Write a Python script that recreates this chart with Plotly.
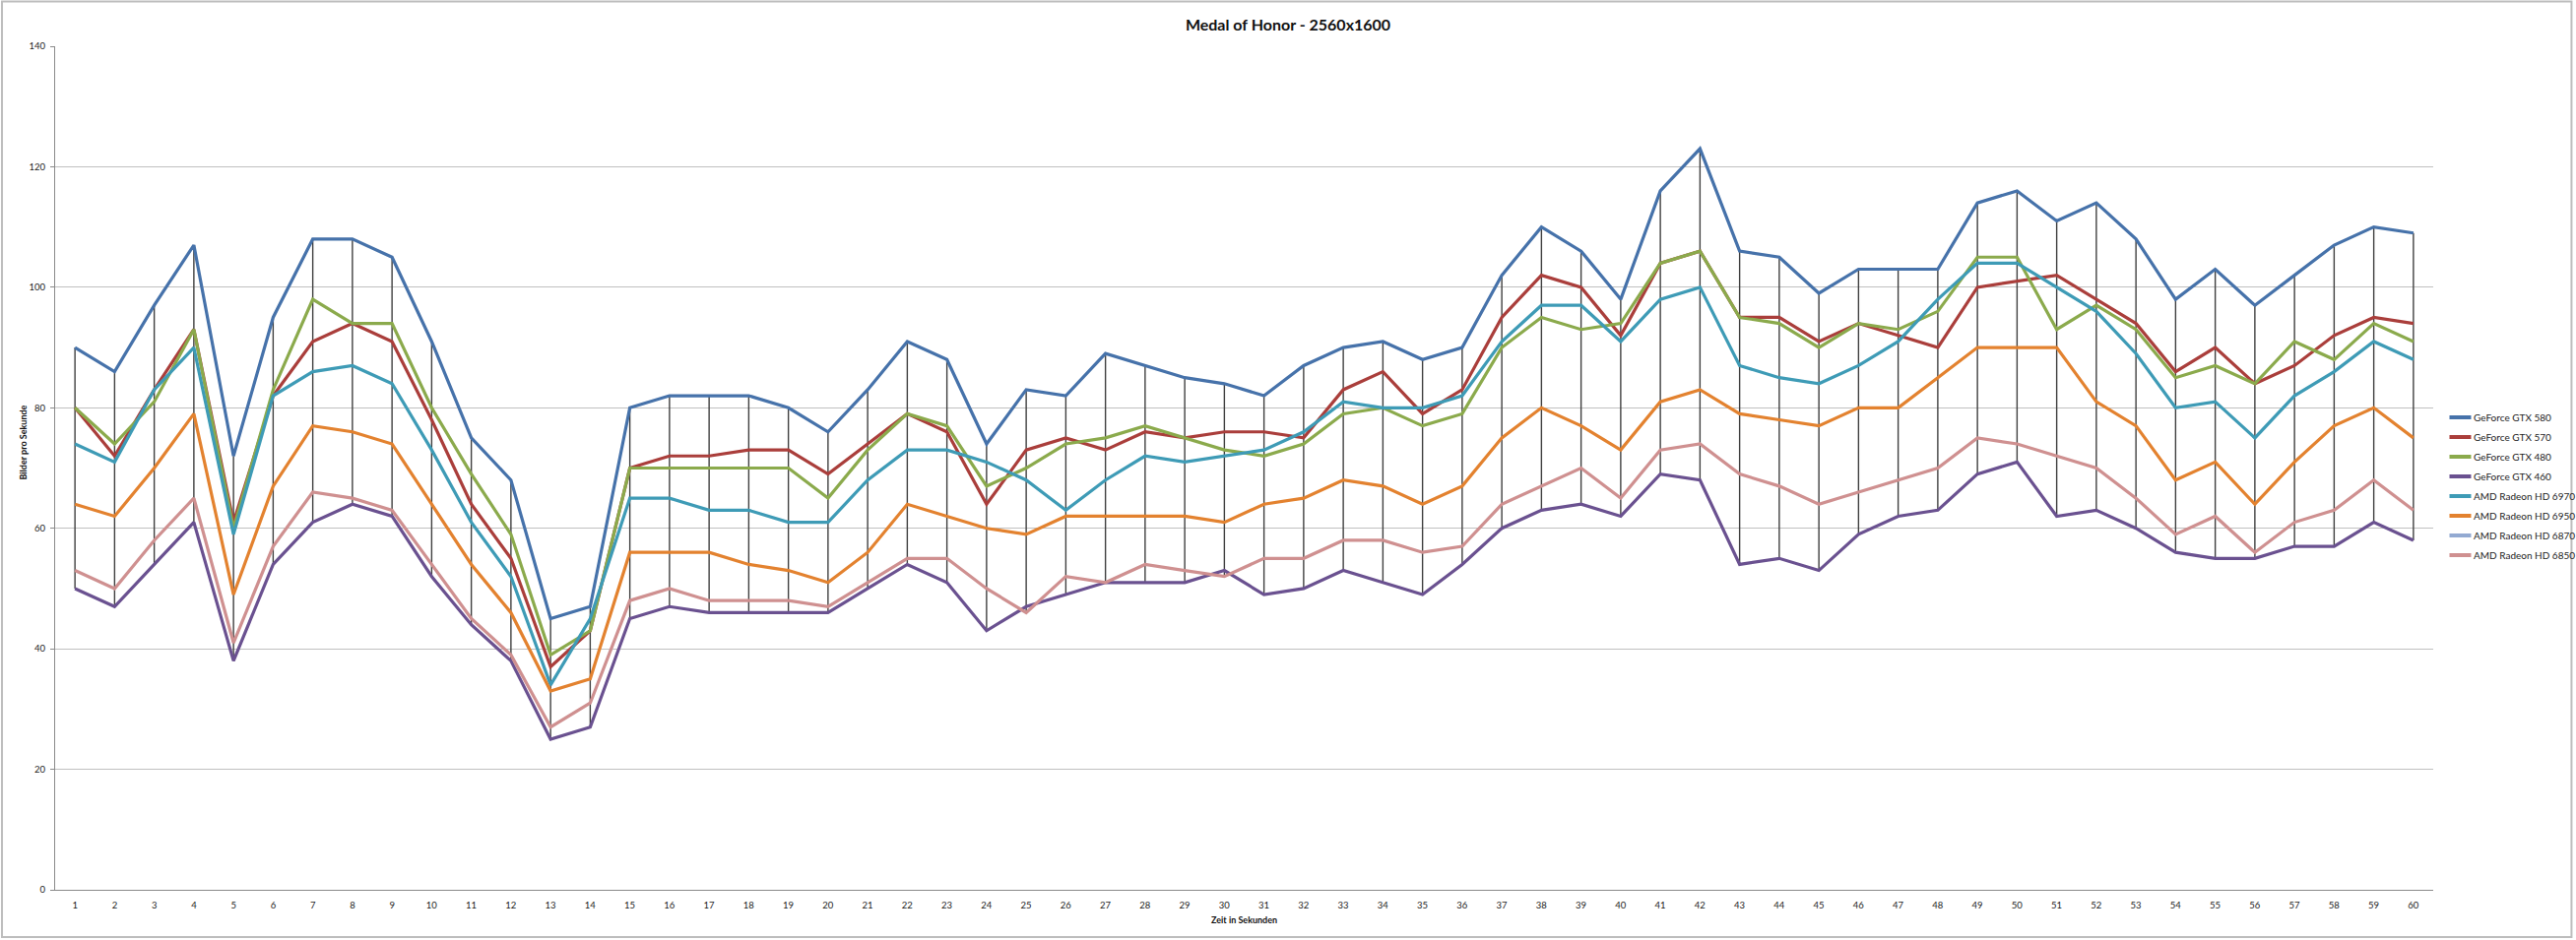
import plotly.graph_objects as go

seconds = list(range(1, 61))

gtx580 = [90, 86, 97, 107, 72, 95, 108, 108, 105, 91,
          75, 68, 45, 47, 80, 82, 82, 82, 80, 76,
          83, 91, 88, 74, 83, 82, 89, 87, 85, 84,
          82, 87, 90, 91, 88, 90, 102, 110, 106, 98,
          116, 123, 106, 105, 99, 103, 103, 103, 114, 116,
          111, 114, 108, 98, 103, 97, 102, 107, 110, 109]
gtx570 = [80, 72, 83, 93, 61, 82, 91, 94, 91, 78,
          64, 55, 37, 43, 70, 72, 72, 73, 73, 69,
          74, 79, 76, 64, 73, 75, 73, 76, 75, 76,
          76, 75, 83, 86, 79, 83, 95, 102, 100, 92,
          104, 106, 95, 95, 91, 94, 92, 90, 100, 101,
          102, 98, 94, 86, 90, 84, 87, 92, 95, 94]
gtx480 = [80, 74, 81, 93, 60, 83, 98, 94, 94, 80,
          69, 59, 39, 43, 70, 70, 70, 70, 70, 65,
          73, 79, 77, 67, 70, 74, 75, 77, 75, 73,
          72, 74, 79, 80, 77, 79, 90, 95, 93, 94,
          104, 106, 95, 94, 90, 94, 93, 96, 105, 105,
          93, 97, 93, 85, 87, 84, 91, 88, 94, 91]
gtx460 = [50, 47, 54, 61, 38, 54, 61, 64, 62, 52,
          44, 38, 25, 27, 45, 47, 46, 46, 46, 46,
          50, 54, 51, 43, 47, 49, 51, 51, 51, 53,
          49, 50, 53, 51, 49, 54, 60, 63, 64, 62,
          69, 68, 54, 55, 53, 59, 62, 63, 69, 71,
          62, 63, 60, 56, 55, 55, 57, 57, 61, 58]
hd6970 = [74, 71, 83, 90, 59, 82, 86, 87, 84, 73,
          61, 52, 34, 45, 65, 65, 63, 63, 61, 61,
          68, 73, 73, 71, 68, 63, 68, 72, 71, 72,
          73, 76, 81, 80, 80, 82, 91, 97, 97, 91,
          98, 100, 87, 85, 84, 87, 91, 98, 104, 104,
          100, 96, 89, 80, 81, 75, 82, 86, 91, 88]
hd6950 = [64, 62, 70, 79, 49, 67, 77, 76, 74, 64,
          54, 46, 33, 35, 56, 56, 56, 54, 53, 51,
          56, 64, 62, 60, 59, 62, 62, 62, 62, 61,
          64, 65, 68, 67, 64, 67, 75, 80, 77, 73,
          81, 83, 79, 78, 77, 80, 80, 85, 90, 90,
          90, 81, 77, 68, 71, 64, 71, 77, 80, 75]
hd6870 = [None] * 60
hd6850 = [53, 50, 58, 65, 41, 57, 66, 65, 63, 54,
          45, 39, 27, 31, 48, 50, 48, 48, 48, 47,
          51, 55, 55, 50, 46, 52, 51, 54, 53, 52,
          55, 55, 58, 58, 56, 57, 64, 67, 70, 65,
          73, 74, 69, 67, 64, 66, 68, 70, 75, 74,
          72, 70, 65, 59, 62, 56, 61, 63, 68, 63]

series_names = ["GeForce GTX 580", "GeForce GTX 570", "GeForce GTX 480", "GeForce GTX 460",
                "AMD Radeon HD 6970", "AMD Radeon HD 6950", "AMD Radeon HD 6870", "AMD Radeon HD 6850"]
series_values = [gtx580, gtx570, gtx480, gtx460, hd6970, hd6950, hd6870, hd6850]
series_colors = ["#4672AA", "#AA3E3B", "#8BAA4C", "#6A5190", "#3E9BB6", "#E3822F", "#93AAD2", "#CF9090"]

title_text = "Medal of Honor - 2560x1600"
y_title = "Bilder pro Sekunde"
x_title = "Zeit in Sekunden"
y_ticks = [0, 20, 40, 60, 80, 100, 120, 140]

W, H = 2616, 955
L, R, T, B = 55.5, 2471.5, 47, 904  # plot area in pixels


def px_x(p):
    return (p - L) / (R - L)


def px_y(p):
    return (B - p) / (B - T)


fig = go.Figure()

# high-low lines (from the series values)
hx, hy = [], []
for i, s in enumerate(seconds):
    vals = [v[i] for v in series_values if v[i] is not None]
    hx += [s, s, None]
    hy += [max(vals), min(vals), None]
fig.add_trace(go.Scatter(x=hx, y=hy, mode="lines", line=dict(color="#404040", width=1.4),
                         showlegend=False, hoverinfo="skip"))

for name, vals, col in zip(series_names, series_values, series_colors):
    fig.add_trace(go.Scatter(x=seconds, y=vals, mode="lines", name=name,
                             line=dict(color=col, width=3.2), showlegend=False))

# legend drawn as shapes + text (compact Excel-style spacing)
legend_shapes, legend_texts = [], []
for i, (name, col) in enumerate(zip(series_names, series_colors)):
    yy = px_y(424 + 20 * i)
    legend_shapes.append(dict(type="line", xref="paper", yref="paper",
                              x0=px_x(2488), x1=px_x(2510), y0=yy, y1=yy,
                              line=dict(color=col, width=4)))
    legend_texts.append(dict(text=name, x=px_x(2511), y=yy, xref="paper", yref="paper",
                             showarrow=False, xanchor="left", yanchor="middle",
                             font=dict(size=10, color="#222")))

fig.update_layout(
    width=W, height=H,
    margin=dict(l=L, r=W - R, t=T, b=H - B),
    paper_bgcolor="white", plot_bgcolor="white",
    font=dict(family="Lato, Open Sans, sans-serif", color="#222"),
    title=dict(text="<b>" + title_text + "</b>", x=0.5, xref="container", xanchor="center",
               y=1 - 25 / H, yref="container", yanchor="middle",
               font=dict(size=16, color="#111")),
    showlegend=False,
    xaxis=dict(range=[0.5, 60.5], tickmode="array", tickvals=seconds,
               ticktext=[str(s) for s in seconds], showgrid=False, zeroline=False,
               showline=True, linecolor="#8a8a8a", linewidth=1.2, ticks="",
               ticklabelstandoff=6, tickfont=dict(size=9.5, color="#222")),
    yaxis=dict(range=[0, 140], tickmode="array", tickvals=y_ticks, showgrid=True,
               gridcolor="#C0C0C0", gridwidth=1.3, zeroline=False, showline=True,
               linecolor="#8a8a8a", linewidth=1.2, ticks="outside", ticklen=4,
               tickcolor="#8a8a8a", ticklabelstandoff=3, tickfont=dict(size=9.5, color="#222")),
    annotations=[
        dict(text="<b>" + y_title + "</b>", x=px_x(22), y=px_y(450), xref="paper", yref="paper",
             textangle=-90, showarrow=False, font=dict(size=9, color="#111"),
             xanchor="center", yanchor="middle"),
        dict(text="<b>" + x_title + "</b>", x=0.5, y=px_y(934), xref="paper", yref="paper",
             showarrow=False, font=dict(size=9, color="#111"), xanchor="center", yanchor="middle"),
    ] + legend_texts,
    shapes=[dict(type="rect", xref="paper", yref="paper",
                 x0=px_x(1.5), x1=px_x(2612), y0=px_y(952), y1=px_y(1.5),
                 line=dict(color="#BDBDBD", width=2), fillcolor="rgba(0,0,0,0)", layer="below")]
           + legend_shapes,
)

fig.write_html("out.html", config={"displayModeBar": False},
               post_script="document.body.style.margin='0px';document.body.style.overflow='hidden';")
